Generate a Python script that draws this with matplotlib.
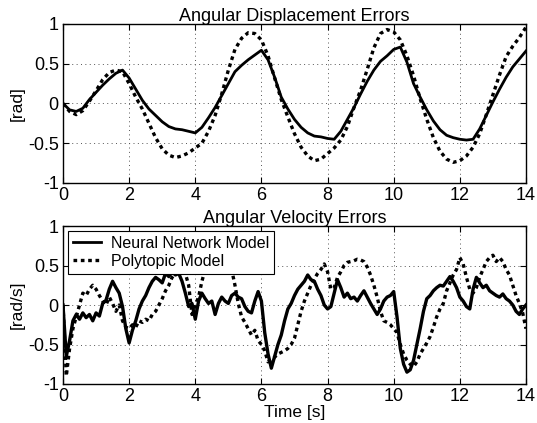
import numpy as np
import matplotlib
matplotlib.use("Agg")
import matplotlib.pyplot as plt

plt.rcParams['font.family'] = ['Liberation Sans', 'DejaVu Sans']
plt.rcParams['axes.unicode_minus'] = False

# angular displacement errors, sampled every 0.2 s
t_disp = np.linspace(0, 14, 71)
disp_nn = [0.0, -0.08, -0.1, -0.06, 0.05, 0.14, 0.23, 0.31, 0.38, 0.42,
           0.32, 0.18, 0.04, -0.07, -0.15, -0.23, -0.29, -0.32, -0.33, -0.35,
           -0.37, -0.3, -0.18, -0.05, 0.1, 0.25, 0.4, 0.48, 0.55, 0.61,
           0.67, 0.55, 0.33, 0.08, -0.07, -0.2, -0.3, -0.37, -0.41, -0.42,
           -0.44, -0.45, -0.35, -0.2, -0.05, 0.12, 0.28, 0.42, 0.53, 0.6,
           0.68, 0.71, 0.52, 0.25, 0.08, -0.08, -0.22, -0.33, -0.4, -0.43,
           -0.45, -0.46, -0.45, -0.32, -0.15, 0.02, 0.18, 0.33, 0.46, 0.56,
           0.66]
disp_poly = [0.0, -0.1, -0.14, -0.09, 0.03, 0.16, 0.3, 0.39, 0.42, 0.4,
             0.25, 0.08, -0.07, -0.25, -0.43, -0.57, -0.65, -0.68, -0.66, -0.62,
             -0.56, -0.5, -0.35, -0.15, 0.12, 0.42, 0.68, 0.82, 0.89, 0.88,
             0.8, 0.6, 0.32, 0.05, -0.17, -0.38, -0.55, -0.66, -0.72, -0.7,
             -0.63, -0.56, -0.46, -0.29, -0.05, 0.17, 0.43, 0.7, 0.88, 0.93,
             0.9, 0.8, 0.6, 0.35, 0.06, -0.2, -0.43, -0.6, -0.7, -0.74,
             -0.72, -0.66, -0.55, -0.38, -0.14, 0.11, 0.36, 0.59, 0.72, 0.83,
             0.96]

# angular velocity errors, sampled every 0.1 s
t_vel = np.linspace(0, 14, 141)
vel_nn = [0.0, -0.65, -0.45, -0.2, -0.12, -0.18, -0.1, -0.16, -0.12, -0.2,
          -0.1, -0.14, 0.02, 0.06, 0.2, 0.3, 0.22, 0.15, -0.02, -0.3,
          -0.48, -0.32, -0.2, -0.05, 0.05, 0.12, 0.22, 0.3, 0.35, 0.32,
          0.28, 0.4, 0.36, 0.42, 0.38, 0.4, 0.3, 0.15, -0.02, 0.02,
          -0.18, 0.05, 0.15, 0.08, 0.02, 0.05, -0.12, 0.02, 0.1, 0.05,
          0.02, 0.12, 0.15, 0.1, 0.08, -0.02, -0.08, -0.1, 0.05, 0.17,
          0.05, -0.35, -0.62, -0.8, -0.65, -0.5, -0.38, -0.2, -0.05, 0.02,
          0.12, 0.2, 0.25, 0.3, 0.38, 0.32, 0.3, 0.2, 0.12, 0.0,
          -0.05, -0.02, 0.15, 0.32, 0.22, 0.1, 0.15, 0.08, 0.1, 0.05,
          0.12, 0.18, 0.1, 0.02, -0.05, -0.12, -0.05, 0.05, 0.1, 0.12,
          0.17, -0.15, -0.55, -0.75, -0.85, -0.82, -0.7, -0.5, -0.3, -0.08,
          0.08, 0.12, 0.18, 0.22, 0.25, 0.24, 0.3, 0.36, 0.3, 0.22,
          0.1, 0.05, -0.02, -0.05, 0.2, 0.35, 0.28, 0.22, 0.25, 0.18,
          0.15, 0.12, 0.1, 0.14, 0.08, 0.05, 0.0, -0.08, -0.12, -0.05,
          0.0]
vel_poly = [0.0, -0.9, -0.55, -0.3, -0.15, 0.0, 0.15, 0.12, 0.2, 0.25,
            0.2, 0.12, 0.05, 0.0, 0.1, 0.02, -0.08, 0.0, -0.2, -0.28,
            -0.3, -0.25, -0.28, -0.2, -0.22, -0.18, -0.2, -0.12, -0.08, 0.0,
            0.08, 0.18, 0.25, 0.35, 0.4, 0.42, 0.42, 0.4, 0.25, -0.12,
            0.0, 0.1, 0.3, 0.45, 0.55, 0.6, 0.62, 0.62, 0.6, 0.58,
            0.55, 0.45, 0.25, 0.02, -0.15, -0.22, -0.3, -0.38, -0.32, -0.45,
            -0.5, -0.58, -0.72, -0.68, -0.66, -0.62, -0.6, -0.58, -0.55, -0.5,
            -0.42, -0.25, -0.08, 0.05, 0.15, 0.25, 0.33, 0.4, 0.45, 0.52,
            0.42, 0.2, 0.22, 0.35, 0.42, 0.5, 0.54, 0.55, 0.56, 0.58,
            0.57, 0.55, 0.48, 0.38, 0.25, 0.1, -0.08, -0.2, -0.22, -0.25,
            -0.3, -0.35, -0.5, -0.62, -0.7, -0.75, -0.78, -0.72, -0.62, -0.55,
            -0.48, -0.4, -0.28, -0.15, -0.05, 0.02, 0.18, 0.28, 0.38, 0.45,
            0.6, 0.52, 0.35, 0.2, 0.15, 0.22, 0.35, 0.45, 0.55, 0.6,
            0.63, 0.55, 0.6, 0.55, 0.45, 0.38, 0.25, 0.12, 0.02, -0.1,
            -0.3]

xticks = [0, 2, 4, 6, 8, 10, 12, 14]
yticks = [-1, -0.5, 0, 0.5, 1]
ytick_labels = ['-1', '-0.5', '0', '0.5', '1']

fig = plt.figure(figsize=(5.37, 4.23), dpi=100)
ax1 = fig.add_axes([0.1173, 0.5674, 0.8622, 0.3759])
ax2 = fig.add_axes([0.1173, 0.0922, 0.8622, 0.3735])

dots = (0, (1.1, 1.1))

def style(ax):
    ax.set_xlim(0, 14)
    ax.set_ylim(-1, 1)
    ax.set_xticks(xticks)
    ax.set_yticks(yticks)
    ax.set_yticklabels(ytick_labels)
    ax.tick_params(direction='in', length=4, labelsize=13, top=True, right=True,
                   pad=3)
    ax.grid(True, color='#555555', linestyle=(0, (1, 3.5)), linewidth=0.7)
    for s in ax.spines.values():
        s.set_linewidth(1.0)

ax1.plot(t_disp, disp_nn, color='black', lw=2.0)
ax1.plot(t_disp, disp_poly, color='black', lw=2.4, linestyle=dots)
style(ax1)
ax1.set_title('Angular Displacement Errors', fontsize=13, pad=2)
ax1.set_ylabel('[rad]', fontsize=12.5, labelpad=2)

ax2.plot(t_vel, vel_nn, color='black', lw=2.4, label='Neural Network Model')
ax2.plot(t_vel, vel_poly, color='black', lw=2.4, linestyle=dots, label='Polytopic Model')
style(ax2)
ax2.set_title('Angular Velocity Errors', fontsize=13, pad=2)
ax2.set_ylabel('[rad/s]', fontsize=12.5, labelpad=2)
ax2.set_xlabel('Time [s]', fontsize=12.5, labelpad=0)
leg = ax2.legend(loc='upper left', fontsize=11.5, frameon=True, fancybox=False,
                 edgecolor='black', framealpha=1, borderpad=0.3, labelspacing=0.2,
                 handlelength=1.8, handletextpad=0.6, borderaxespad=0.3)
leg.get_frame().set_linewidth(0.8)
leg.get_lines()[0].set_linewidth(2.0)

fig.savefig('out.png', dpi=100)
